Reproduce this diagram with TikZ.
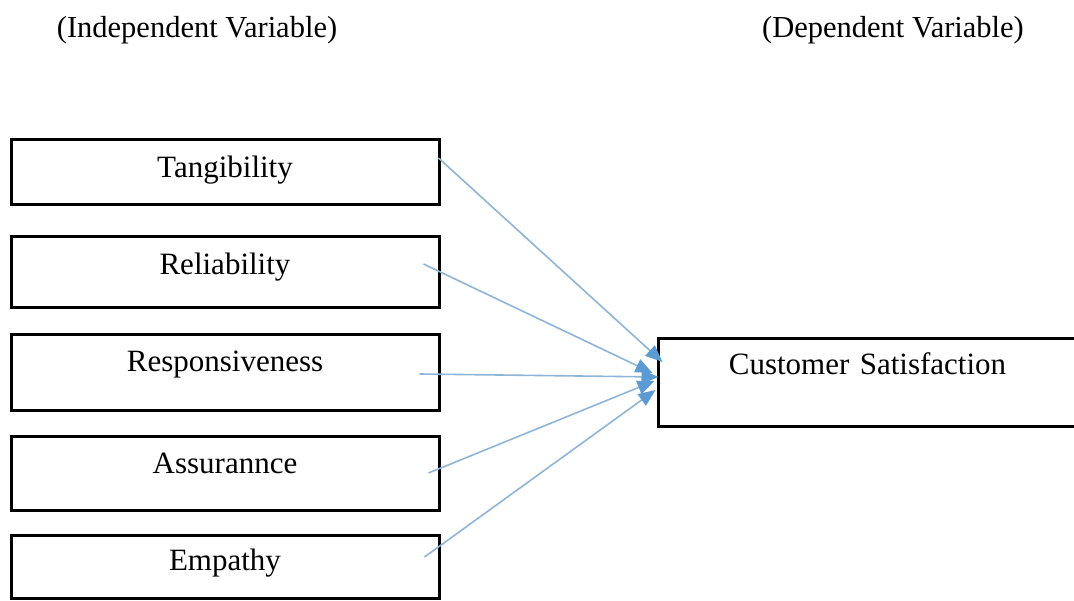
\documentclass[tikz,border=0pt]{standalone}
\usepackage{fontspec}
\setmainfont{Liberation Serif}
\usetikzlibrary{arrows.meta}

\definecolor{arrowline}{HTML}{8EB4D8}
\definecolor{arrowhead}{HTML}{5B9BD5}

\tikzset{
  varbox/.style={draw=black, line width=3pt, inner sep=0pt,
    font=\fontsize{31}{37}\selectfont, align=center},
  heading/.style={anchor=base, inner sep=0pt, font=\fontsize{30.5}{36}\selectfont},
  link/.style={draw=arrowline, line width=1.6pt,
    -{Triangle[length=17pt,width=14pt,color=arrowhead,fill=arrowhead]}}
}

\begin{document}
\begin{tikzpicture}[x=1pt, y=-1pt]
  \useasboundingbox (0,0) rectangle (1074,601);
  \clip (0,0) rectangle (1074,601);

  % headings
  \node[heading] (indep) at (197,38) {(Independent Variable)};
  \node[heading] (dep)   at (893,38) {(Dependent Variable)};

  % independent variables (text height/depth put the baseline inside each box)
  \node[varbox, text width=428pt, text height=38pt, text depth=27pt] (tang) at (225,172.5) {Tangibility};
  \node[varbox, text width=428pt, text height=38pt, text depth=33pt] (reli) at (225,272.5) {Reliability};
  \node[varbox, text width=428pt, text height=37pt, text depth=39pt] (resp) at (225,373)   {Responsiveness};
  \node[varbox, text width=428pt, text height=36pt, text depth=37pt] (assu) at (225,473.5) {Assurannce};
  \node[varbox, text width=428pt, text height=35pt, text depth=28pt] (empa) at (225,566.5) {Empathy};

  % dependent variable
  \node[varbox, text width=419pt, text height=36pt, text depth=52pt] (cs) at (867.5,383) {Customer Satisfaction};

  % line starts inside / at the edge of each box
  \coordinate (tang-out) at ([shift={(-2,-14.5)}]tang.east);
  \coordinate (reli-out) at ([shift={(-17,-8.5)}]reli.east);
  \coordinate (resp-out) at ([shift={(-21,1)}]resp.east);
  \coordinate (assu-out) at ([shift={(-12,-0.5)}]assu.east);
  \coordinate (empa-out) at ([shift={(-16,-9.5)}]empa.east);

  % arrow tips gathered at the left side of the dependent box
  \coordinate (tang-in) at ([shift={(6,-21)}]cs.west);
  \coordinate (reli-in) at ([shift={(-4,-10)}]cs.west);
  \coordinate (resp-in) at ([shift={(2,-6)}]cs.west);
  \coordinate (assu-in) at ([shift={(-2,-2)}]cs.west);
  \coordinate (empa-in) at ([shift={(-1,7)}]cs.west);

  \draw[link] (tang-out) -- (tang-in);
  \draw[link] (reli-out) -- (reli-in);
  \draw[link] (resp-out) -- (resp-in);
  \draw[link] (assu-out) -- (assu-in);
  \draw[link] (empa-out) -- (empa-in);
\end{tikzpicture}
\end{document}
